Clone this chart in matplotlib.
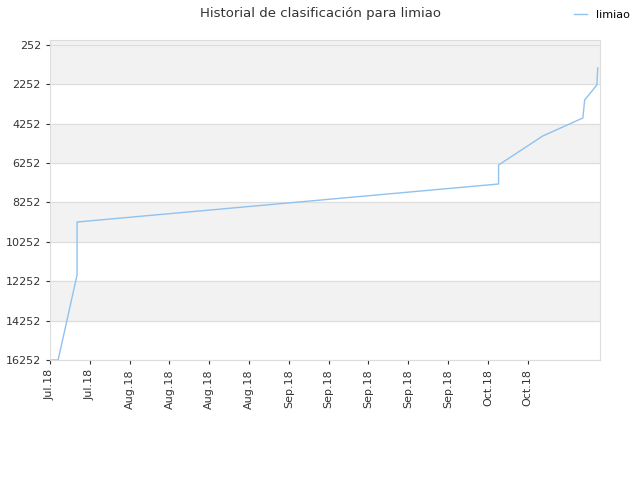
import matplotlib
matplotlib.use("Agg")
import matplotlib.pyplot as plt

# days since start of July 2018 vs. ranking position
days = [0.4, 1.8, 6.0, 6.0, 99.5, 99.5, 109.3, 118.2, 118.6, 121.3, 121.5]
rank = [16252, 16252, 11936, 9244, 7313, 6348, 4875, 3960, 3046, 2284, 1420]
tick_labels = ["Jul.18", "Jul.18", "Aug.18", "Aug.18", "Aug.18", "Aug.18", "Sep.18",
               "Sep.18", "Sep.18", "Sep.18", "Sep.18", "Oct.18", "Oct.18"]
tick_days = [i * 8.83 for i in range(len(tick_labels))]
yticks = list(range(252, 16253, 2000))

fig = plt.figure(figsize=(6.4, 4.8), dpi=100)
ax = fig.add_axes([50/640, 120/480, 550/640, 320/480])
for i in range(len(yticks) - 1):
    if i % 2 == 0:
        ax.axhspan(yticks[i], yticks[i + 1], color="#f2f2f2", zorder=0)
ax.axhspan(0, 252, color="#f2f2f2", zorder=0)
for y in yticks:
    ax.axhline(y, color="#dddddd", lw=0.8, zorder=1)
ax.plot(days, rank, color="#90c2f0", lw=1, label="limiao", zorder=2)
ax.set_xlim(0, 122)
ax.set_ylim(16252, 0)
ax.set_yticks(yticks)
ax.set_xticks(tick_days)
ax.set_xticklabels(tick_labels, rotation=90)
ax.tick_params(labelsize=8, colors="#333333", length=3)
for s in ax.spines.values():
    s.set_color("#dddddd")
fig.suptitle("Historial de clasificación para limiao", x=0.5, y=0.985, fontsize=9.5, color="#333333")
fig.legend(loc="upper right", bbox_to_anchor=(1.0, 1.0), frameon=False, fontsize=8, handlelength=1.2)
fig.savefig("out.png")
